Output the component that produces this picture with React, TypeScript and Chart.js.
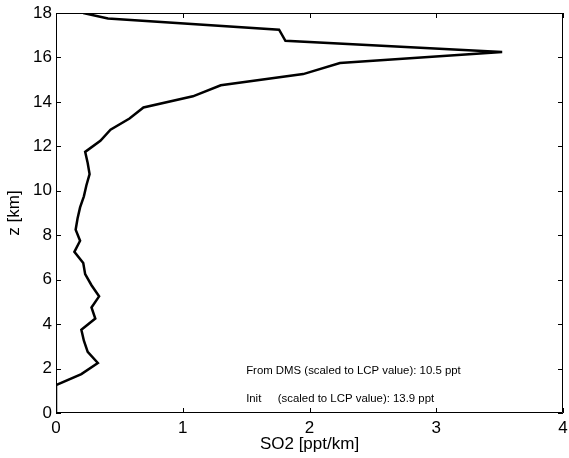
import React, { useEffect, useRef } from "react";
import { Chart, registerables } from "chart.js";

Chart.register(...registerables);

const altitudeKm = [0, 1.25, 1.75, 2.25, 2.75, 3.25, 3.75, 4.25, 4.75, 5.25, 5.75, 6.25, 6.75, 7.25, 7.75, 8.25, 8.75, 9.25, 9.75, 10.25, 10.75, 11.25, 11.75, 12.25, 12.75, 13.25, 13.75, 14.25, 14.75, 15.25, 15.75, 16.25, 16.75, 17.25, 17.75, 18];
const so2PptPerKm = [0, 0, 0.2, 0.33, 0.25, 0.22, 0.2, 0.31, 0.28, 0.34, 0.28, 0.23, 0.215, 0.145, 0.19, 0.155, 0.17, 0.19, 0.22, 0.24, 0.265, 0.25, 0.23, 0.35, 0.43, 0.58, 0.69, 1.08, 1.3, 1.95, 2.24, 3.52, 1.81, 1.76, 0.41, 0.215];

const xTicks = [0, 1, 2, 3, 4];
const yTicks = [0, 2, 4, 6, 8, 10, 12, 14, 16, 18];

const noteLines = [
  { label: "From DMS", rest: "(scaled to LCP value): 10.5 ppt", x: 1.5, restX: 1.5, y: 1.9, inline: true },
  { label: "Init", rest: "(scaled to LCP value): 13.9 ppt", x: 1.5, restX: 1.75, y: 0.62, inline: false },
];

const FONT = "'Liberation Sans', Arial, Helvetica, sans-serif";

const framePlugin = {
  id: "frameAndNotes",
  afterDraw(chart: any) {
    const ctx = chart.ctx;
    const { left, right, top, bottom } = chart.chartArea;
    const xs = chart.scales.x;
    const ys = chart.scales.y;
    ctx.save();
    ctx.strokeStyle = "#000";
    ctx.lineWidth = 1;
    ctx.beginPath();
    ctx.rect(left + 0.5, top + 0.5, right - left - 1, bottom - top - 1);
    ctx.stroke();
    const tl = 5;
    ctx.beginPath();
    xTicks.forEach((v) => {
      const px = Math.round(xs.getPixelForValue(v)) + 0.5;
      ctx.moveTo(px, bottom);
      ctx.lineTo(px, bottom - tl);
      ctx.moveTo(px, top);
      ctx.lineTo(px, top + tl);
    });
    yTicks.forEach((v) => {
      const py = Math.round(ys.getPixelForValue(v)) + 0.5;
      ctx.moveTo(left, py);
      ctx.lineTo(left + tl, py);
      ctx.moveTo(right, py);
      ctx.lineTo(right - tl, py);
    });
    ctx.stroke();

    ctx.fillStyle = "#000";
    ctx.font = `11.4px ${FONT}`;
    ctx.textBaseline = "middle";
    ctx.textAlign = "left";
    noteLines.forEach((n) => {
      const px = xs.getPixelForValue(n.x);
      const py = ys.getPixelForValue(n.y);
      if (n.inline) {
        ctx.fillText(n.label + " " + n.rest, px, py);
      } else {
        ctx.fillText(n.label, px, py);
        ctx.fillText(n.rest, xs.getPixelForValue(n.restX), py);
      }
    });
    ctx.restore();
  },
};

export default function App() {
  const ref = useRef<HTMLCanvasElement | null>(null);

  useEffect(() => {
    document.body.style.margin = "0";
    const canvas = ref.current;
    if (!canvas) return;
    const points = so2PptPerKm.map((v, i) => ({ x: v, y: altitudeKm[i] }));
    const chart = new Chart(canvas, {
      type: "scatter",
      data: {
        datasets: [
          {
            data: points,
            showLine: true,
            borderColor: "#000",
            backgroundColor: "#000",
            borderWidth: 2.5,
            pointRadius: 0,
            tension: 0,
          },
        ],
      },
      options: {
        animation: false,
        responsive: false,
        maintainAspectRatio: false,
        layout: { padding: { top: 13, right: 6, left: 0, bottom: 0 } },
        plugins: {
          legend: { display: false },
          tooltip: { enabled: false },
        },
        scales: {
          x: {
            type: "linear",
            min: 0,
            max: 4,
            afterBuildTicks: (s: any) => {
              s.ticks = xTicks.map((v) => ({ value: v }));
            },
            afterFit: (s: any) => {
              s.height = 45;
              s.paddingLeft = 0;
              s.paddingRight = 0;
            },
            grid: { display: false, drawTicks: false },
            border: { display: false },
            ticks: {
              color: "#000",
              padding: 5,
              maxRotation: 0,
              font: { family: FONT, size: 17 },
            },
            title: {
              display: true,
              text: "SO2 [ppt/km]",
              color: "#000",
              font: { family: FONT, size: 17 },
              padding: { top: 0, bottom: 3 },
            },
          },
          y: {
            type: "linear",
            min: 0,
            max: 18,
            afterBuildTicks: (s: any) => {
              s.ticks = yTicks.map((v) => ({ value: v }));
            },
            afterFit: (s: any) => {
              s.width = 56;
              s.paddingTop = 0;
              s.paddingBottom = 0;
            },
            grid: { display: false, drawTicks: false },
            border: { display: false },
            ticks: {
              color: "#000",
              padding: 4,
              font: { family: FONT, size: 17 },
            },
            title: {
              display: true,
              text: "z [km]",
              color: "#000",
              font: { family: FONT, size: 17 },
              padding: { top: 4, bottom: 0 },
            },
          },
        },
      },
      plugins: [framePlugin],
    });
    return () => chart.destroy();
  }, []);

  return (
    <div style={{ position: "absolute", left: 0, top: 0, width: 569, height: 458 }}>
      <canvas ref={ref} width={569} height={458} style={{ width: 569, height: 458, display: "block" }} />
    </div>
  );
}
